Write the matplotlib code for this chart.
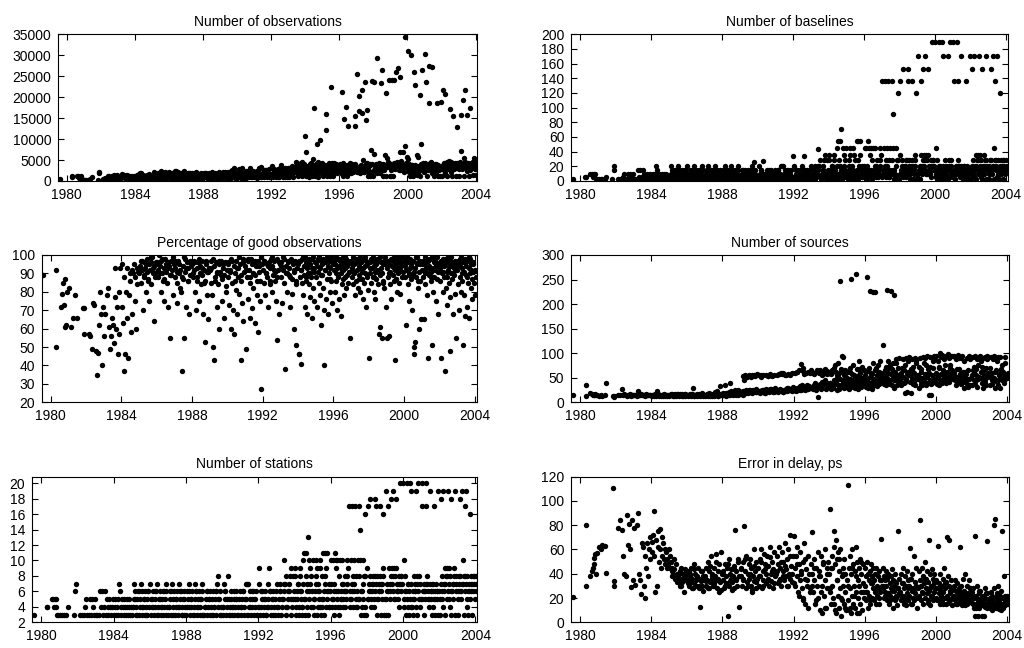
"""Six-panel scatter summary of VLBI sessions, 1980-2004."""

import matplotlib.pyplot as plt

plt.rcParams["font.family"] = ["Liberation Sans", "DejaVu Sans"]

# session epochs (decimal years), one entry per session
session_year = [
    1979.58, 1980.30, 1980.32, 1980.58, 1980.65, 1980.72, 1980.76, 1980.80, 1980.84, 1980.88,
    1980.95, 1981.05, 1981.15, 1981.25, 1981.38, 1981.48, 1981.82, 1981.88, 1981.90, 1982.15,
    1982.25, 1982.35, 1982.42, 1982.45, 1982.55, 1982.62, 1982.68, 1982.75, 1982.80, 1982.85,
    1982.90, 1982.97, 1983.02, 1983.10, 1983.18, 1983.25, 1983.30, 1983.36, 1983.42, 1983.47,
    1983.52, 1983.57, 1983.62, 1983.66, 1983.70, 1983.75, 1983.80, 1983.85, 1983.90, 1983.95,
    1984.02, 1984.06, 1984.10, 1984.14, 1984.18, 1984.22, 1984.26, 1984.30, 1984.35, 1984.39, 1984.43, 1984.47,
    1984.51, 1984.55, 1984.59, 1984.63, 1984.67, 1984.71, 1984.75, 1984.79, 1984.83, 1984.87, 1984.91, 1984.96,
    1985.02, 1985.06, 1985.10, 1985.14, 1985.18, 1985.22, 1985.26, 1985.30, 1985.35, 1985.39, 1985.43, 1985.47,
    1985.51, 1985.55, 1985.59, 1985.63, 1985.67, 1985.71, 1985.75, 1985.79, 1985.83, 1985.87, 1985.91, 1985.96,
    1986.02, 1986.06, 1986.10, 1986.14, 1986.18, 1986.22, 1986.26, 1986.30, 1986.35, 1986.39, 1986.43, 1986.47,
    1986.51, 1986.55, 1986.59, 1986.63, 1986.67, 1986.71, 1986.75, 1986.79, 1986.83, 1986.87, 1986.91, 1986.96,
    1987.02, 1987.06, 1987.10, 1987.14, 1987.18, 1987.22, 1987.26, 1987.30, 1987.35, 1987.39, 1987.43, 1987.47,
    1987.51, 1987.55, 1987.59, 1987.63, 1987.67, 1987.71, 1987.75, 1987.79, 1987.83, 1987.87, 1987.91, 1987.96,
    1988.02, 1988.06, 1988.10, 1988.14, 1988.18, 1988.22, 1988.26, 1988.30, 1988.35, 1988.39, 1988.43, 1988.47,
    1988.51, 1988.55, 1988.59, 1988.63, 1988.67, 1988.71, 1988.75, 1988.79, 1988.83, 1988.87, 1988.91, 1988.96,
    1989.02, 1989.06, 1989.10, 1989.14, 1989.18, 1989.22, 1989.26, 1989.30, 1989.35, 1989.39, 1989.43, 1989.47,
    1989.51, 1989.55, 1989.59, 1989.63, 1989.67, 1989.71, 1989.75, 1989.79, 1989.83, 1989.87, 1989.91, 1989.96,
    1990.02, 1990.06, 1990.10, 1990.14, 1990.18, 1990.22, 1990.26, 1990.30, 1990.35, 1990.39, 1990.43, 1990.47,
    1990.51, 1990.55, 1990.59, 1990.63, 1990.67, 1990.71, 1990.75, 1990.79, 1990.83, 1990.87, 1990.91, 1990.96,
    1991.02, 1991.06, 1991.10, 1991.14, 1991.18, 1991.22, 1991.26, 1991.30, 1991.35, 1991.39, 1991.43, 1991.47,
    1991.51, 1991.55, 1991.59, 1991.63, 1991.67, 1991.71, 1991.75, 1991.79, 1991.83, 1991.87, 1991.91, 1991.96,
    1992.02, 1992.06, 1992.10, 1992.14, 1992.18, 1992.22, 1992.26, 1992.30, 1992.35, 1992.39, 1992.43, 1992.47,
    1992.51, 1992.55, 1992.59, 1992.63, 1992.67, 1992.71, 1992.75, 1992.79, 1992.83, 1992.87, 1992.91, 1992.96,
    1993.02, 1993.06, 1993.10, 1993.14, 1993.18, 1993.22, 1993.26, 1993.30, 1993.35, 1993.39, 1993.43, 1993.47,
    1993.51, 1993.55, 1993.59, 1993.63, 1993.67, 1993.71, 1993.75, 1993.79, 1993.83, 1993.87, 1993.91, 1993.96,
    1994.01, 1994.04, 1994.07, 1994.10, 1994.13, 1994.16, 1994.19, 1994.22,
    1994.25, 1994.28, 1994.31, 1994.34, 1994.37, 1994.40, 1994.43, 1994.46,
    1994.49, 1994.52, 1994.55, 1994.58, 1994.61, 1994.64, 1994.67, 1994.70,
    1994.73, 1994.76, 1994.79, 1994.82, 1994.85, 1994.88, 1994.91, 1994.95,
    1995.01, 1995.04, 1995.07, 1995.10, 1995.13, 1995.16, 1995.19, 1995.22,
    1995.25, 1995.28, 1995.31, 1995.34, 1995.37, 1995.40, 1995.43, 1995.46,
    1995.49, 1995.52, 1995.55, 1995.58, 1995.61, 1995.64, 1995.67, 1995.70,
    1995.73, 1995.76, 1995.79, 1995.82, 1995.85, 1995.88, 1995.91, 1995.95,
    1996.01, 1996.04, 1996.07, 1996.10, 1996.13, 1996.16, 1996.19, 1996.22,
    1996.25, 1996.28, 1996.31, 1996.34, 1996.37, 1996.40, 1996.43, 1996.46,
    1996.49, 1996.52, 1996.55, 1996.58, 1996.61, 1996.64, 1996.67, 1996.70,
    1996.73, 1996.76, 1996.79, 1996.82, 1996.85, 1996.88, 1996.91, 1996.95,
    1997.01, 1997.04, 1997.07, 1997.10, 1997.13, 1997.16, 1997.19, 1997.22,
    1997.25, 1997.28, 1997.31, 1997.34, 1997.37, 1997.40, 1997.43, 1997.46,
    1997.49, 1997.52, 1997.55, 1997.58, 1997.61, 1997.64, 1997.67, 1997.70,
    1997.73, 1997.76, 1997.79, 1997.82, 1997.85, 1997.88, 1997.91, 1997.95,
    1998.01, 1998.04, 1998.07, 1998.10, 1998.13, 1998.16, 1998.19, 1998.22,
    1998.25, 1998.28, 1998.31, 1998.34, 1998.37, 1998.40, 1998.43, 1998.46,
    1998.49, 1998.52, 1998.55, 1998.58, 1998.61, 1998.64, 1998.67, 1998.70,
    1998.73, 1998.76, 1998.79, 1998.82, 1998.85, 1998.88, 1998.91, 1998.95,
    1999.01, 1999.04, 1999.07, 1999.10, 1999.13, 1999.16, 1999.19, 1999.22,
    1999.25, 1999.28, 1999.31, 1999.34, 1999.37, 1999.40, 1999.43, 1999.46,
    1999.49, 1999.52, 1999.55, 1999.58, 1999.61, 1999.64, 1999.67, 1999.70,
    1999.73, 1999.76, 1999.79, 1999.82, 1999.85, 1999.88, 1999.91, 1999.95,
    2000.01, 2000.04, 2000.07, 2000.10, 2000.13, 2000.16, 2000.19, 2000.22,
    2000.25, 2000.28, 2000.31, 2000.34, 2000.37, 2000.40, 2000.43, 2000.46,
    2000.49, 2000.52, 2000.55, 2000.58, 2000.61, 2000.64, 2000.67, 2000.70,
    2000.73, 2000.76, 2000.79, 2000.82, 2000.85, 2000.88, 2000.91, 2000.95,
    2001.01, 2001.04, 2001.07, 2001.10, 2001.13, 2001.16, 2001.19, 2001.22,
    2001.25, 2001.28, 2001.31, 2001.34, 2001.37, 2001.40, 2001.43, 2001.46,
    2001.49, 2001.52, 2001.55, 2001.58, 2001.61, 2001.64, 2001.67, 2001.70,
    2001.73, 2001.76, 2001.79, 2001.82, 2001.85, 2001.88, 2001.91, 2001.95,
    2002.01, 2002.04, 2002.07, 2002.10, 2002.13, 2002.16, 2002.19, 2002.22,
    2002.25, 2002.28, 2002.31, 2002.34, 2002.37, 2002.40, 2002.43, 2002.46,
    2002.49, 2002.52, 2002.55, 2002.58, 2002.61, 2002.64, 2002.67, 2002.70,
    2002.73, 2002.76, 2002.79, 2002.82, 2002.85, 2002.88, 2002.91, 2002.95,
    2003.01, 2003.04, 2003.07, 2003.10, 2003.13, 2003.16, 2003.19, 2003.22,
    2003.25, 2003.28, 2003.31, 2003.34, 2003.37, 2003.40, 2003.43, 2003.46,
    2003.49, 2003.52, 2003.55, 2003.58, 2003.61, 2003.64, 2003.67, 2003.70,
    2003.73, 2003.76, 2003.79, 2003.82, 2003.85, 2003.88, 2003.91, 2003.95,
    2004.01, 2004.03, 2004.05,
    # additional sessions, 1985-2003
    1985.05, 1985.17, 1985.29, 1985.42, 1985.54, 1985.66, 1985.78, 1985.90,
    1986.05, 1986.17, 1986.29, 1986.42, 1986.54, 1986.66, 1986.78, 1986.90,
    1987.05, 1987.17, 1987.29, 1987.42, 1987.54, 1987.66, 1987.78, 1987.90,
    1988.05, 1988.17, 1988.29, 1988.42, 1988.54, 1988.66, 1988.78, 1988.90,
    1989.05, 1989.17, 1989.29, 1989.42, 1989.54, 1989.66, 1989.78, 1989.90,
    1990.05, 1990.17, 1990.29, 1990.42, 1990.54, 1990.66, 1990.78, 1990.90,
    1991.05, 1991.17, 1991.29, 1991.42, 1991.54, 1991.66, 1991.78, 1991.90,
    1992.05, 1992.17, 1992.29, 1992.42, 1992.54, 1992.66, 1992.78, 1992.90,
    1993.05, 1993.17, 1993.29, 1993.42, 1993.54, 1993.66, 1993.78, 1993.90,
    1994.05, 1994.17, 1994.29, 1994.42, 1994.54, 1994.66, 1994.78, 1994.90,
    1995.05, 1995.17, 1995.29, 1995.42, 1995.54, 1995.66, 1995.78, 1995.90,
    1996.05, 1996.17, 1996.29, 1996.42, 1996.54, 1996.66, 1996.78, 1996.90,
    1997.05, 1997.17, 1997.29, 1997.42, 1997.54, 1997.66, 1997.78, 1997.90,
    1998.05, 1998.17, 1998.29, 1998.42, 1998.54, 1998.66, 1998.78, 1998.90,
    1999.05, 1999.17, 1999.29, 1999.42, 1999.54, 1999.66, 1999.78, 1999.90,
    2000.05, 2000.17, 2000.29, 2000.42, 2000.54, 2000.66, 2000.78, 2000.90,
    2001.05, 2001.17, 2001.29, 2001.42, 2001.54, 2001.66, 2001.78, 2001.90,
    2002.05, 2002.17, 2002.29, 2002.42, 2002.54, 2002.66, 2002.78, 2002.90,
    2003.05, 2003.17, 2003.29, 2003.42, 2003.54, 2003.66, 2003.78, 2003.90,
]

n_stations = [
    3, 4, 4, 5, 5, 4, 5, 4, 5, 3,
    3, 3, 3, 3, 3, 4, 3, 6, 7, 3,
    3, 3, 4, 5, 3, 3, 5, 3, 5, 4,
    3, 5, 3, 3, 3, 6, 4, 6, 3, 4,
    6, 3, 5, 4, 3, 5, 4, 3, 4, 5,
    3, 4, 5, 3, 4, 5, 3, 7, 6, 4, 3, 5, 4, 3, 5, 4, 3, 5, 4, 3, 5, 4, 3, 4,  # 1984
    3, 4, 7, 5, 6, 3, 4, 5, 6, 3, 4, 5, 7, 3, 6, 4, 5, 3, 6, 4, 5, 3, 6, 4,  # 1985
    7, 3, 4, 5, 6, 3, 4, 5, 6, 7, 3, 4, 5, 6, 3, 4, 5, 6, 3, 4, 5, 7, 6, 4,  # 1986
    3, 4, 5, 6, 3, 7, 4, 5, 6, 3, 4, 5, 6, 3, 7, 4, 5, 6, 3, 4, 5, 6, 3, 4,  # 1987
    3, 4, 5, 7, 6, 3, 4, 5, 6, 3, 4, 5, 7, 6, 3, 4, 5, 6, 3, 4, 5, 6, 7, 3,  # 1988
    3, 4, 5, 6, 3, 4, 5, 6, 3, 4, 5, 6, 3, 4, 5, 6, 3, 7, 4, 8, 5, 6, 3, 4,  # 1989
    3, 4, 7, 5, 6, 3, 4, 8, 5, 3, 4, 5, 6, 3, 4, 5, 3, 4, 6, 5, 3, 4, 5, 6,  # 1990
    3, 4, 5, 6, 3, 4, 5, 7, 7, 3, 7, 4, 5, 6, 3, 4, 5, 6, 3, 4, 5, 6, 3, 4,  # 1991
    9, 7, 3, 4, 5, 6, 3, 4, 5, 6, 3, 4, 7, 5, 9, 6, 3, 4, 5, 6, 3, 4, 5, 6,  # 1992
    7, 3, 4, 5, 6, 7, 3, 4, 5, 6, 10, 7, 8, 3, 4, 5, 6, 7, 8, 9, 3, 4, 5, 6,  # 1993
    9, 8, 3, 4, 5, 6, 7, 3, 4, 8, 9, 5, 6, 3, 4, 10,  # 1994
    7, 11, 5, 3, 8, 11, 4, 6, 13, 3, 10, 5, 7, 9, 4, 6,
    10, 4, 3, 5, 6, 8, 10, 9, 3, 4, 7, 5, 6, 10, 9, 3,  # 1995
    8, 4, 5, 11, 6, 3, 11, 7, 4, 9, 11, 5, 6, 4, 7, 6,
    7, 10, 4, 5, 10, 6, 3, 11, 4, 10, 9, 5, 10, 6, 3, 8,  # 1996
    4, 10, 5, 6, 10, 7, 4, 5, 6, 8, 4, 5, 6, 7, 10, 9,
    17, 4, 6, 5, 10, 17, 7, 4, 8, 6, 10, 17, 5, 8, 4, 6,  # 1997
    10, 5, 17, 8, 10, 14, 3, 6, 4, 5, 10, 3, 8, 4, 16, 3,
    9, 17, 5, 6, 7, 8, 18, 4, 5, 6, 7, 8, 4, 5, 6, 18,  # 1998
    17, 7, 8, 3, 5, 6, 7, 8, 17, 3, 6, 5, 7, 9, 16, 3,
    5, 3, 19, 6, 7, 3, 17, 9, 5, 6, 8, 18, 9, 7, 19, 6,  # 1999
    5, 9, 8, 18, 9, 6, 7, 5, 6, 8, 4, 7, 20, 8, 6, 7,
    20, 10, 4, 8, 6, 3, 5, 20, 7, 4, 6, 3, 20, 5, 7, 19,  # 2000
    4, 6, 3, 8, 5, 7, 6, 4, 19, 3, 8, 6, 20, 5, 7, 4,
    5, 20, 17, 6, 3, 7, 5, 6, 20, 17, 8, 7, 5, 6, 4, 19,  # 2001
    7, 6, 5, 3, 7, 6, 4, 5, 17, 6, 3, 7, 5, 6, 3, 19,
    6, 3, 7, 18, 5, 8, 4, 19, 6, 7, 9, 3, 8, 5, 9, 6,  # 2002
    19, 7, 9, 4, 8, 3, 18, 6, 7, 5, 9, 8, 3, 19, 6, 7,
    6, 3, 7, 8, 18, 8, 5, 6, 19, 7, 10, 3, 8, 17, 6, 7,  # 2003
    19, 4, 8, 6, 3, 7, 16, 5, 8, 6, 7, 3, 8, 6, 7, 5,
    6, 8, 7,
    # additional sessions
    4, 5, 3, 6, 4, 5, 3, 6,
    5, 4, 6, 3, 5, 4, 6, 3,
    4, 6, 3, 5, 4, 6, 3, 5,
    6, 4, 5, 3, 6, 4, 5, 3,
    4, 6, 5, 3, 4, 6, 5, 3,
    4, 6, 5, 3, 4, 6, 5, 3,
    4, 6, 5, 3, 4, 6, 5, 3,
    4, 6, 5, 3, 4, 6, 5, 3,
    4, 6, 5, 7, 4, 6, 5, 8,
    5, 7, 6, 4, 5, 7, 6, 8,
    5, 7, 6, 4, 5, 8, 6, 4,
    5, 7, 6, 4, 5, 7, 6, 8,
    5, 6, 7, 4, 5, 6, 7, 8,
    5, 6, 7, 8, 5, 6, 7, 8,
    5, 6, 7, 8, 5, 6, 7, 8,
    5, 6, 7, 4, 5, 6, 7, 8,
    5, 6, 7, 5, 6, 7, 5, 6,
    5, 6, 7, 8, 5, 6, 7, 8,
    5, 6, 7, 8, 5, 6, 7, 8,
]

n_baselines = [
    3, 6, 6, 10, 10, 6, 10, 6, 10, 3,
    3, 3, 3, 3, 3, 6, 3, 15, 21, 3,
    3, 3, 6, 10, 3, 3, 10, 3, 10, 6,
    3, 10, 3, 3, 3, 15, 6, 15, 3, 6,
    15, 3, 10, 6, 3, 10, 6, 3, 6, 10,
    3, 6, 10, 3, 6, 10, 3, 21, 15, 6, 3, 10, 6, 3, 10, 6, 3, 10, 6, 3, 10, 6, 3, 6,
    3, 6, 21, 10, 15, 3, 6, 10, 15, 3, 6, 10, 21, 3, 15, 6, 10, 3, 15, 6, 10, 3, 15, 6,
    21, 3, 6, 10, 15, 3, 6, 10, 15, 21, 3, 6, 10, 15, 3, 6, 10, 15, 3, 6, 10, 21, 15, 6,
    3, 6, 10, 15, 3, 21, 6, 10, 15, 3, 6, 10, 15, 3, 21, 6, 10, 15, 3, 6, 10, 15, 3, 6,
    3, 6, 10, 21, 15, 3, 6, 10, 15, 3, 6, 10, 21, 15, 3, 6, 10, 15, 3, 6, 10, 15, 21, 3,
    3, 6, 10, 15, 3, 6, 10, 15, 3, 6, 10, 15, 3, 6, 10, 15, 3, 21, 6, 26, 10, 15, 3, 6,
    3, 6, 21, 10, 15, 3, 6, 27, 10, 3, 6, 10, 15, 3, 6, 10, 3, 6, 15, 10, 3, 6, 10, 15,
    3, 6, 10, 15, 3, 6, 10, 21, 21, 3, 21, 6, 10, 15, 3, 6, 10, 15, 3, 6, 10, 15, 3, 6,
    34, 21, 3, 6, 10, 15, 3, 6, 10, 15, 3, 6, 21, 10, 34, 15, 3, 6, 10, 15, 3, 6, 10, 15,
    21, 3, 6, 10, 15, 21, 3, 6, 10, 15, 43, 21, 28, 3, 6, 10, 15, 21, 28, 36, 3, 6, 10, 15,
    36, 28, 3, 6, 10, 15, 21, 3, 6, 28, 36, 10, 15, 3, 6, 45,
    21, 55, 10, 3, 28, 55, 6, 15, 71, 3, 45, 10, 21, 36, 6, 15,
    45, 6, 3, 10, 15, 28, 45, 36, 3, 6, 21, 10, 15, 45, 36, 3,
    28, 6, 10, 55, 15, 3, 55, 21, 6, 36, 55, 10, 15, 6, 21, 15,
    21, 45, 6, 10, 45, 15, 3, 55, 6, 45, 36, 10, 45, 15, 3, 28,
    6, 45, 10, 15, 45, 21, 6, 10, 15, 28, 6, 10, 15, 21, 45, 36,
    136, 6, 15, 10, 45, 136, 21, 6, 28, 15, 45, 136, 10, 28, 6, 15,
    45, 10, 136, 28, 45, 91, 3, 15, 6, 10, 45, 3, 28, 6, 120, 3,
    36, 136, 10, 15, 21, 28, 153, 6, 10, 15, 21, 28, 6, 10, 15, 153,
    136, 21, 28, 3, 10, 15, 21, 28, 136, 3, 15, 10, 21, 36, 120, 3,
    10, 3, 171, 15, 21, 3, 136, 36, 10, 15, 28, 153, 36, 21, 171, 15,
    10, 36, 28, 153, 36, 15, 21, 10, 15, 28, 6, 21, 190, 28, 15, 21,
    190, 45, 6, 28, 15, 3, 10, 190, 21, 6, 15, 3, 190, 10, 21, 171,
    6, 15, 3, 28, 10, 21, 15, 6, 171, 3, 28, 15, 190, 10, 21, 6,
    10, 190, 136, 15, 3, 21, 10, 15, 190, 136, 28, 21, 10, 15, 6, 171,
    21, 15, 10, 3, 21, 15, 6, 10, 136, 15, 3, 21, 10, 15, 3, 171,
    15, 3, 21, 153, 10, 28, 6, 171, 15, 21, 36, 3, 28, 10, 36, 15,
    171, 21, 36, 6, 28, 3, 153, 15, 21, 10, 36, 28, 3, 171, 15, 21,
    15, 3, 21, 28, 153, 28, 10, 15, 171, 21, 45, 3, 28, 136, 15, 21,
    171, 6, 28, 15, 3, 21, 120, 10, 28, 15, 21, 3, 28, 15, 21, 10,
    15, 28, 21,
    # additional sessions
    6, 10, 3, 15, 6, 10, 3, 15,
    10, 6, 15, 3, 10, 6, 15, 3,
    6, 15, 3, 10, 6, 15, 3, 10,
    15, 6, 10, 3, 15, 6, 10, 3,
    6, 15, 10, 3, 6, 15, 10, 3,
    6, 15, 10, 3, 6, 15, 10, 3,
    6, 15, 10, 3, 6, 15, 10, 3,
    6, 15, 10, 3, 6, 15, 10, 3,
    6, 15, 10, 21, 6, 15, 10, 28,
    10, 21, 15, 6, 10, 21, 15, 28,
    10, 21, 15, 6, 10, 28, 15, 6,
    10, 21, 15, 6, 10, 21, 15, 28,
    10, 15, 21, 6, 10, 15, 21, 28,
    10, 15, 21, 28, 10, 15, 21, 28,
    10, 15, 21, 28, 10, 15, 21, 28,
    10, 15, 21, 6, 10, 15, 21, 28,
    10, 15, 21, 10, 15, 21, 10, 15,
    10, 15, 21, 28, 10, 15, 21, 28,
    10, 15, 21, 28, 10, 15, 21, 28,
]

n_observations = [
    500, 1300, 900, 1200, 1100, 800, 1000, 700, 1300, 400,
    300, 200, 250, 300, 500, 1000, 300, 2000, 2200, 500,
    700, 400, 1100, 1200, 600, 500, 1300, 700, 1500, 900,
    400, 1400, 600, 700, 800, 1600, 1000, 1500, 700, 1200,
    1400, 600, 1300, 1100, 800, 1300, 1000, 700, 900, 1200,
    400, 900, 1500, 500, 1000, 1600, 600, 2000, 1800, 1100, 500, 1400,  # 1984
    900, 450, 1300, 1000, 600, 1500, 1200, 550, 1700, 1000, 400, 800,
    600, 1000, 2100, 1400, 1800, 500, 1100, 1500, 2000, 650, 1200, 1600,  # 1985
    2300, 700, 1900, 1000, 1500, 550, 2100, 1100, 1400, 600, 1800, 1000,
    2200, 600, 1100, 1500, 2000, 500, 1000, 1600, 2400, 2500, 700, 1200,  # 1986
    1700, 2100, 600, 1000, 1400, 1900, 550, 1100, 1500, 2300, 2000, 900,
    600, 1000, 1400, 1900, 500, 2000, 1100, 1500, 1800, 600, 1000, 1300,  # 1987
    1800, 550, 2100, 1000, 1400, 1700, 600, 1100, 1500, 2000, 700, 1000,
    650, 1100, 1500, 2000, 1800, 600, 1000, 1400, 1900, 700, 1100, 1500,  # 1988
    2100, 1800, 650, 1200, 1500, 1900, 600, 1000, 1400, 2000, 2200, 700,
    700, 1200, 1600, 2000, 650, 1100, 1500, 2100, 600, 1200, 1700, 2200,  # 1989
    700, 1300, 1800, 2300, 800, 2600, 1200, 3000, 1700, 2100, 750, 1300,
    800, 1300, 2800, 1800, 2300, 700, 1200, 3200, 1700, 800, 1400, 1900,  # 1990
    2400, 750, 1300, 1800, 900, 1500, 3100, 2000, 850, 1400, 1900, 2500,
    850, 1400, 1900, 2400, 800, 1300, 2000, 3200, 3000, 900, 3300, 1500,  # 1991
    2000, 2600, 850, 1400, 2100, 2700, 900, 1500, 2000, 2800, 950, 1600,
    3500, 3000, 900, 1500, 2100, 2700, 1000, 1600, 2200, 2800, 950, 1500,  # 1992
    3100, 2200, 3800, 2900, 1000, 1600, 2300, 3000, 1000, 1700, 2400, 3100,
    3200, 1000, 1600, 2300, 2900, 3500, 1000, 1800, 2500, 3100, 4500, 3600,  # 1993
    4200, 1100, 1800, 2500, 3200, 3800, 4300, 4600, 1100, 1900, 2600, 3300,
    10700, 7000, 1100, 1800, 2500, 3000, 3500, 1000,  # 1994
    1700, 4000, 4200, 2400, 3100, 1100, 1900, 5200,
    3600, 17300, 2600, 1200, 3900, 4100, 1800, 8800,
    4500, 1000, 3800, 2500, 3300, 9800, 1900, 3000,
    4200, 1900, 1200, 2500, 3100, 3800, 12200, 16000,  # 1995
    1100, 2000, 3400, 2600, 3200, 4300, 4000, 1200,
    22500, 2000, 2700, 4400, 3300, 1100, 4200, 3600,
    2100, 3900, 4100, 2800, 3400, 2000, 3700, 3300,
    3400, 4100, 2000, 2600, 21300, 3100, 1200, 4400,  # 1996
    2100, 14700, 3900, 2700, 17700, 3200, 1100, 3800,
    2000, 13000, 2600, 3300, 4200, 3600, 1900, 2500,
    3000, 4000, 2100, 2700, 3200, 3500, 13100, 15400,
    25500, 2100, 3200, 2700, 20300, 16700, 3600, 2000,  # 1997
    3800, 3100, 21700, 16200, 2600, 4900, 2200, 3300,
    23700, 2700, 14600, 4000, 17000, 4300, 1200, 3000,
    2000, 2500, 4100, 1100, 7400, 2100, 23900, 1300,
    6400, 23600, 2500, 3100, 3600, 4100, 29400, 1900,  # 1998
    2600, 3200, 3700, 4200, 2000, 2700, 3300, 23300,
    26500, 3500, 4000, 1200, 2600, 3100, 3800, 6200,
    20900, 1300, 3400, 5600, 3700, 4500, 24100, 1200,
    2700, 1200, 24100, 3300, 3800, 1300, 24000, 4300,  # 1999
    2800, 3400, 4000, 26100, 4500, 3900, 26900, 3200,
    2600, 4400, 7000, 24900, 4800, 3300, 3900, 2700,
    3100, 6800, 2100, 3800, 34300, 8400, 3300, 5800,
    31100, 5200, 2100, 4000, 3300, 1200, 2800, 30100,  # 2000
    3800, 2200, 3400, 1300, 25900, 2900, 3900, 22800,
    2300, 3500, 1400, 6100, 3000, 5800, 3600, 2400,
    20500, 1300, 8800, 3400, 26500, 2900, 4100, 2200,
    4200, 30200, 23700, 3300, 1100, 3900, 2700, 3400,  # 2001
    27400, 18700, 4300, 3700, 4500, 3100, 2000, 27100,
    3800, 3200, 2600, 1200, 4000, 3300, 2100, 2800,
    18700, 3500, 1300, 3900, 2700, 3200, 1200, 18800,
    3300, 1200, 3900, 21700, 2700, 4400, 2000, 20700,  # 2002
    3400, 3800, 4600, 1300, 4300, 2800, 4700, 3200,
    17100, 3700, 4500, 2200, 4200, 1200, 15600, 3300,
    3900, 2800, 4400, 4100, 1300, 12800, 3100, 3600,
    3400, 1300, 3900, 4500, 15800, 7200, 2800, 3300,  # 2003
    19300, 4000, 5600, 1200, 4600, 21600, 3400, 3800,
    15800, 2300, 4400, 3200, 1300, 3700, 17300, 2700,
    4300, 3100, 3900, 1400, 4500, 5600, 3600, 2800,
    2800, 3500, 1500,
    # additional sessions
    1000, 1400, 600, 1900, 1100, 1500, 650, 2000,
    1500, 1100, 2000, 600, 1400, 1000, 1900, 700,
    1100, 1800, 600, 1400, 1000, 1900, 650, 1500,
    1900, 1100, 1500, 650, 1800, 1000, 1400, 700,
    1200, 2100, 1600, 700, 1300, 2200, 1700, 750,
    1400, 2300, 1900, 800, 1300, 2400, 1800, 850,
    1500, 2500, 2000, 900, 1400, 2600, 2100, 900,
    1600, 2800, 2200, 1000, 1500, 2900, 2300, 950,
    1700, 3000, 2400, 3400, 1800, 3100, 2500, 4000,
    2500, 3400, 3000, 1800, 2600, 3500, 3100, 3900,
    2600, 3500, 3200, 2000, 2700, 3800, 3300, 2100,
    2700, 3600, 3200, 2100, 2800, 3500, 3300, 4000,
    2700, 3200, 3600, 2100, 2600, 3300, 3700, 4000,
    2700, 3200, 3700, 4100, 2600, 3300, 3800, 4200,
    2800, 3300, 3800, 4300, 2700, 3400, 3900, 4400,
    2900, 3400, 3900, 2200, 2800, 3500, 4000, 4300,
    2800, 3300, 3900, 2700, 3400, 4000, 2900, 3200,
    2900, 3500, 4000, 4500, 2800, 3400, 4100, 4400,
    2800, 3500, 4000, 4400, 2900, 3400, 3900, 4500,
]

pct_good = [
    89, 92, 50, 72, 79, 85, 73, 61, 87, 62,
    80, 82, 61, 66, 78, 66, 71, 57, 71, 57,
    56, 49, 74, 73, 48, 35, 47, 62, 80, 68,
    40, 72, 56, 68, 78, 82, 61, 49, 56, 66,
    62, 52, 93, 77, 60, 72, 46, 57, 80, 93,
    72, 95, 63, 37, 88, 46, 80, 93, 66, 44, 78, 90, 86, 58, 92, 68, 90, 95, 75, 88, 60, 93, 84, 91,
    90, 94, 85, 97, 92, 70, 96, 88, 93, 80, 98, 91, 87, 95, 75, 92, 96, 84, 99, 90, 64, 94, 88, 96,
    96, 92, 88, 100, 94, 80, 97, 90, 86, 93, 75, 98, 91, 95, 85, 93, 72, 94, 55, 89, 97, 92, 78, 95,
    93, 88, 96, 85, 74, 97, 90, 82, 92, 80, 37, 87, 94, 55, 98, 91, 72, 96, 86, 93, 68, 97, 89, 94,
    95, 88, 92, 97, 80, 70, 93, 86, 96, 75, 90, 94, 84, 97, 89, 68, 92, 53, 86, 95, 78, 91, 65, 93,
    92, 85, 97, 78, 50, 43, 94, 88, 96, 72, 90, 84, 95, 60, 91, 97, 87, 75, 93, 66, 89, 96, 80, 92,
    88, 96, 73, 92, 60, 98, 85, 70, 94, 57, 90, 81, 97, 68, 88, 93, 79, 95, 86, 43, 74, 98, 64, 91,
    94, 49, 88, 97, 76, 92, 66, 85, 98, 71, 90, 82, 96, 63, 89, 94, 78, 97, 58, 91, 86, 75, 27, 95,
    92, 85, 97, 78, 90, 95, 88, 72, 96, 84, 93, 98, 80, 94, 89, 97, 91, 86, 75, 98, 54, 92, 68, 95,
    96, 88, 74, 92, 98, 85, 38, 94, 90, 80, 97, 89, 93, 72, 98, 87, 79, 95, 60, 91, 97, 84, 51, 93,
    95, 46, 46, 88, 97, 41, 92, 85, 98, 78, 94, 89, 99, 72, 96, 86,
    93, 68, 97, 90, 84, 98, 77, 95, 88, 66, 93, 99, 82, 91, 75, 96,
    96, 88, 72, 98, 91, 85, 99, 78, 93, 97, 62, 89, 95, 82, 98, 70,
    40, 92, 96, 76, 99, 87, 68, 94, 90, 97, 80, 93, 86, 99, 74, 95,
    92, 97, 80, 95, 99, 86, 70, 93, 98, 88, 94, 76, 97, 90, 67, 95,
    84, 99, 92, 78, 96, 88, 93, 98, 82, 95, 89, 97, 85, 91, 55, 96,
    97, 88, 93, 99, 84, 95, 90, 78, 96, 86, 98, 92, 82, 97, 89, 94,
    99, 80, 93, 96, 87, 91, 76, 98, 85, 94, 90, 72, 97, 88, 95, 81,
    44, 96, 90, 98, 85, 93, 97, 88, 99, 80, 94, 91, 76, 95, 87, 98,
    92, 84, 97, 57, 89, 61, 93, 96, 90, 55, 86, 95, 82, 97, 99, 72,
    93, 55, 97, 88, 95, 56, 91, 84, 98, 76, 94, 89, 97, 86, 99, 92,
    43, 95, 87, 98, 80, 93, 90, 96, 85, 97, 79, 94, 99, 88, 96, 91,
    95, 88, 97, 62, 92, 99, 84, 96, 90, 75, 98, 93, 94, 87, 70, 96,
    89, 97, 50, 46, 93, 53, 88, 99, 95, 82, 96, 60, 91, 86, 97, 65,
    92, 97, 88, 95, 65, 99, 84, 93, 96, 90, 78, 97, 44, 89, 94, 98,
    91, 86, 99, 51, 93, 80, 96, 88, 97, 92, 75, 95, 87, 99, 68, 94,
    93, 86, 44, 97, 90, 95, 80, 98, 88, 94, 37, 82, 96, 91, 73, 99,
    92, 85, 97, 77, 48, 94, 90, 87, 96, 68, 93, 89, 79, 97, 55, 92,
    92, 84, 97, 70, 95, 88, 99, 80, 93, 86, 51, 96, 78, 91, 98, 67,
    94, 89, 72, 97, 85, 93, 66, 90, 98, 82, 95, 87, 76, 96, 91, 85,
    78, 92, 88,
    # additional sessions
    92, 97, 89, 95, 86, 99, 93, 90,
    95, 90, 98, 87, 93, 96, 89, 99,
    97, 91, 95, 88, 99, 93, 86, 96,
    90, 96, 88, 98, 93, 85, 97, 91,
    93, 98, 86, 91, 97, 89, 95, 83,
    95, 91, 97, 86, 93, 99, 89, 96,
    92, 98, 88, 95, 97, 86, 94, 99,
    97, 90, 94, 86, 99, 92, 88, 96,
    94, 99, 90, 96, 88, 97, 92, 86,
    97, 92, 99, 88, 95, 90, 98, 93,
    94, 99, 89, 97, 92, 98, 87, 96,
    96, 90, 98, 93, 87, 99, 94, 91,
    95, 91, 98, 87, 96, 93, 99, 89,
    93, 98, 88, 96, 91, 99, 85, 95,
    96, 90, 98, 93, 87, 99, 92, 95,
    94, 98, 89, 96, 91, 99, 86, 95,
    95, 90, 98, 93, 88, 99, 94, 91,
    96, 91, 98, 88, 94, 99, 90, 95,
    94, 98, 90, 96, 88, 99, 92, 95,
]

n_sources = [
    15, 36, 13, 18, 16, 15, 14, 15, 16, 14,
    14, 13, 14, 13, 14, 40, 12, 13, 11, 14,
    15, 28, 14, 16, 14, 13, 15, 14, 16, 13,
    14, 15, 15, 14, 13, 22, 15, 14, 16, 14,
    15, 14, 13, 15, 16, 14, 15, 14, 15, 14,
    14, 13, 15, 12, 14, 16, 13, 22, 17, 14, 12, 15, 14, 13, 15, 14, 12, 16, 14, 13, 15, 14, 12, 14,
    13, 14, 16, 15, 17, 12, 14, 15, 16, 13, 14, 15, 16, 13, 17, 14, 15, 12, 16, 14, 15, 13, 16, 14,
    14, 13, 14, 15, 17, 12, 14, 16, 30, 15, 13, 14, 15, 16, 12, 14, 15, 17, 13, 14, 16, 18, 15, 14,
    13, 14, 15, 16, 12, 18, 14, 15, 17, 13, 14, 16, 17, 13, 20, 14, 15, 22, 13, 15, 16, 34, 14, 15,
    15, 14, 16, 35, 18, 13, 15, 17, 20, 14, 40, 16, 22, 19, 14, 16, 18, 24, 15, 17, 20, 25, 22, 16,
    16, 18, 20, 22, 15, 45, 55, 24, 18, 52, 21, 25, 55, 20, 23, 52, 19, 26, 56, 22, 54, 28, 21, 57,
    20, 55, 23, 18, 52, 26, 21, 56, 24, 19, 55, 27, 22, 54, 25, 20, 57, 28, 23, 53, 26, 21, 55, 30,
    22, 56, 25, 20, 58, 28, 24, 60, 57, 21, 59, 26, 23, 55, 27, 22, 58, 30, 25, 56, 28, 24, 60, 32,
    25, 60, 28, 22, 62, 30, 26, 65, 33, 24, 78, 35, 28, 70, 58, 32, 25, 60, 36, 27, 62, 34, 30, 65,
    30, 62, 28, 35, 58, 40, 25, 65, 32, 10, 60, 38, 66, 30, 42, 55, 35, 62, 45, 68, 28, 40, 58, 36,
    60, 32, 40, 28, 58, 35, 65, 30, 45, 70, 38, 75, 42, 62, 25, 50,
    80, 55, 36, 28, 248, 48, 62, 33, 95, 40, 92, 55, 30, 65, 45, 38,
    50, 30, 62, 42, 28, 70, 48, 35, 252, 45, 58, 32, 75, 40, 52, 30,
    262, 48, 35, 68, 42, 28, 85, 55, 38, 60, 45, 32, 72, 50, 40, 65,
    55, 40, 32, 62, 256, 45, 30, 70, 38, 52, 227, 35, 60, 42, 28, 80,
    225, 48, 36, 65, 224, 40, 55, 33, 75, 45, 38, 62, 50, 85, 42, 58,
    116, 42, 55, 38, 65, 48, 72, 35, 228, 50, 85, 60, 40, 75, 45, 226,
    58, 36, 68, 80, 52, 219, 30, 62, 45, 55, 88, 35, 70, 48, 90, 40,
    45, 60, 35, 70, 88, 52, 65, 40, 18, 75, 90, 48, 20, 58, 85, 62,
    55, 92, 42, 68, 19, 50, 88, 38, 72, 45, 60, 90, 35, 55, 80, 48,
    55, 30, 72, 45, 90, 38, 62, 50, 35, 93, 48, 80, 58, 42, 75, 36,
    95, 52, 40, 68, 15, 60, 45, 92, 38, 15, 55, 85, 70, 48, 94, 42,
    95, 60, 38, 85, 50, 35, 72, 100, 45, 92, 58, 40, 96, 65, 48, 88,
    52, 75, 40, 95, 62, 45, 98, 55, 90, 42, 70, 58, 94, 50, 65, 48,
    60, 95, 92, 45, 35, 88, 52, 40, 97, 90, 68, 48, 58, 92, 38, 95,
    55, 42, 62, 30, 85, 50, 45, 58, 90, 38, 32, 65, 48, 94, 35, 88,
    50, 35, 65, 92, 45, 72, 38, 95, 55, 68, 88, 32, 75, 48, 90, 52,
    94, 62, 85, 40, 72, 30, 90, 55, 65, 45, 92, 70, 35, 95, 52, 60,
    55, 35, 70, 92, 60, 45, 38, 88, 94, 50, 62, 30, 90, 65, 42, 85,
    93, 35, 58, 48, 30, 92, 68, 45, 75, 50, 62, 40, 58, 80, 48, 55,
    55, 50, 60,
    # additional sessions
    14, 15, 13, 16, 14, 15, 13, 16,
    15, 14, 17, 13, 15, 14, 16, 13,
    14, 17, 13, 15, 14, 18, 13, 16,
    18, 15, 17, 14, 20, 16, 18, 15,
    20, 54, 22, 18, 24, 55, 23, 20,
    22, 56, 25, 19, 54, 28, 24, 21,
    24, 57, 26, 21, 56, 29, 25, 22,
    26, 62, 30, 24, 64, 32, 28, 60,
    30, 60, 35, 62, 28, 58, 40, 64,
    40, 62, 35, 55, 30, 68, 45, 58,
    45, 62, 38, 55, 32, 68, 50, 40,
    48, 65, 40, 58, 35, 70, 45, 60,
    50, 42, 70, 38, 60, 45, 80, 55,
    50, 70, 42, 88, 55, 65, 40, 85,
    52, 68, 45, 90, 58, 72, 40, 88,
    55, 70, 45, 92, 60, 48, 75, 95,
    52, 68, 45, 90, 55, 62, 48, 92,
    55, 62, 45, 92, 50, 70, 40, 88,
    52, 60, 45, 90, 55, 65, 48, 92,
]

delay_error_ps = [
    21, 80, 30, 38, 42, 45, 48, 53, 56, 40,
    57, 62, 60, 64, 63, 41, 111, 30, 34, 78,
    84, 76, 55, 40, 38, 88, 64, 81, 60, 29,
    84, 35, 78, 31, 80, 90, 40, 35, 23, 65,
    62, 30, 20, 55, 45, 65, 38, 60, 52, 70,
    58, 66, 72, 55, 92, 25, 68, 30, 75, 62, 50, 77, 60, 45, 70, 55, 65, 52, 48, 60, 58, 45, 52, 48,
    60, 55, 50, 45, 42, 40, 38, 44, 36, 48, 35, 40, 38, 34, 42, 30, 45, 36, 33, 40, 25, 38, 35, 42,
    40, 35, 42, 30, 38, 45, 33, 36, 28, 48, 32, 40, 35, 30, 38, 45, 28, 36, 13, 34, 42, 30, 38, 35,
    38, 45, 30, 35, 50, 28, 42, 33, 55, 36, 40, 30, 45, 32, 38, 56, 28, 35, 42, 25, 48, 33, 58, 40,
    35, 42, 28, 48, 32, 38, 45, 5, 30, 52, 40, 36, 44, 33, 38, 28, 46, 76, 35, 42, 30, 50, 13, 38,
    38, 45, 30, 50, 35, 79, 42, 28, 55, 33, 40, 48, 36, 52, 30, 45, 25, 38, 60, 34, 42, 28, 50, 36,
    45, 30, 52, 38, 60, 28, 42, 35, 56, 48, 32, 40, 55, 36, 46, 30, 62, 40, 34, 50, 28, 44, 58, 38,
    40, 55, 32, 48, 62, 36, 45, 30, 58, 42, 50, 35, 65, 38, 44, 52, 30, 60, 40, 36, 72, 46, 33, 55,
    71, 45, 30, 55, 38, 62, 25, 48, 35, 58, 42, 28, 50, 20, 65, 36, 15, 44, 30, 55, 12, 40, 25, 48,
    74, 40, 25, 52, 35, 15, 45, 30, 58, 20, 42, 10, 38, 55, 8, 30, 48, 22, 60, 35, 12, 45, 28, 50,
    40, 25, 93, 15, 45, 30, 55, 20, 62, 75, 10, 48, 68, 8, 35, 52,
    22, 58, 12, 42, 28, 60, 5, 38, 18, 45, 30, 52, 15, 40, 25, 10,
    35, 18, 113, 45, 10, 55, 28, 8, 40, 22, 60, 15, 48, 30, 12, 42,
    62, 25, 50, 8, 35, 20, 45, 30, 15, 52, 25, 40, 10, 48, 32, 20,
    30, 45, 18, 38, 25, 50, 12, 35, 22, 42, 15, 32, 48, 20, 38, 28,
    45, 18, 35, 25, 40, 15, 30, 22, 38, 28, 42, 20, 35, 25, 69, 30,
    45, 28, 38, 20, 35, 25, 42, 30, 18, 36, 24, 40, 15, 32, 22, 38,
    28, 44, 20, 35, 12, 30, 26, 18, 40, 22, 32, 14, 75, 28, 36, 24,
    25, 40, 18, 32, 22, 45, 28, 15, 38, 20, 30, 14, 42, 24, 35, 18,
    30, 22, 61, 15, 36, 26, 40, 20, 28, 55, 18, 33, 24, 45, 30, 12,
    28, 42, 22, 84, 35, 18, 30, 45, 25, 38, 15, 32, 50, 20, 36, 28,
    42, 24, 33, 18, 68, 26, 40, 14, 30, 22, 44, 18, 36, 25, 40, 28,
    20, 35, 28, 63, 18, 32, 24, 15, 40, 26, 22, 30, 18, 36, 25, 20,
    45, 28, 15, 33, 70, 22, 38, 16, 30, 68, 24, 18, 26, 35, 20, 28,
    22, 30, 18, 35, 15, 26, 20, 32, 24, 28, 16, 62, 22, 18, 30, 25,
    14, 36, 20, 26, 16, 40, 22, 18, 30, 15, 24, 20, 35, 17, 28, 22,
    18, 25, 15, 28, 12, 20, 5, 71, 22, 15, 30, 14, 5, 18, 24, 12,
    26, 16, 20, 5, 14, 22, 17, 5, 20, 13, 28, 15, 24, 67, 12, 18,
    15, 20, 12, 25, 18, 22, 10, 16, 28, 80, 14, 85, 20, 12, 24, 17,
    14, 30, 18, 11, 22, 15, 26, 13, 75, 20, 12, 38, 16, 22, 14, 18,
    18, 22, 15,
    # additional sessions
    45, 38, 52, 33, 40, 30, 36, 44,
    32, 40, 28, 44, 36, 30, 42, 26,
    34, 28, 46, 38, 30, 50, 36, 27,
    40, 30, 48, 34, 27, 44, 36, 52,
    44, 36, 52, 30, 40, 27, 46, 33,
    38, 50, 30, 44, 35, 54, 42, 32,
    42, 34, 50, 38, 46, 30, 55, 40,
    32, 48, 22, 40, 18, 52, 35, 28,
    30, 45, 18, 38, 25, 50, 12, 40,
    28, 45, 15, 35, 52, 20, 40, 12,
    30, 12, 45, 22, 38, 8, 50, 25,
    25, 40, 18, 32, 28, 45, 15, 35,
    30, 22, 38, 18, 26, 34, 20, 28,
    22, 32, 18, 28, 36, 15, 26, 20,
    20, 30, 24, 36, 16, 28, 22, 32,
    18, 28, 22, 15, 32, 20, 26, 14,
    20, 15, 26, 18, 24, 14, 22, 28,
    16, 22, 12, 26, 18, 14, 20, 24,
    14, 18, 12, 22, 16, 10, 20, 15,
]

# title, values, y-limits, y-tick step, axes rect (left, bottom, width, height)
panels = [
    ("Number of observations", n_observations, (0, 35000), 5000,
     [0.0569, 0.7207, 0.4092, 0.2264]),
    ("Number of baselines", n_baselines, (0, 200), 20,
     [0.5579, 0.7207, 0.4262, 0.2264]),
    ("Percentage of good observations", pct_good, (20, 100), 10,
     [0.0407, 0.3792, 0.4248, 0.2273]),
    ("Number of sources", n_sources, (0, 300), 50,
     [0.5579, 0.3792, 0.4271, 0.2273]),
    ("Number of stations", n_stations, (2, 20.85), 2,
     [0.0315, 0.0397, 0.4346, 0.2247]),
    ("Error in delay, ps", delay_error_ps, (0, 120), 20,
     [0.5579, 0.0397, 0.4271, 0.2247]),
]

fig = plt.figure(figsize=(10.24, 6.48), dpi=100)
fig.patch.set_facecolor("white")

for title, values, ylim, ystep, rect in panels:
    ax = fig.add_axes(rect)
    ax.scatter(session_year, values, s=15, c="black", linewidths=0, zorder=3)
    ax.set_xlim(1979.5, 2004.1)
    ax.set_ylim(*ylim)
    ax.set_xticks(range(1980, 2005, 4))
    top = int(ylim[1] // ystep * ystep)
    ax.set_yticks(range(int(ylim[0]), top + 1, ystep))
    ax.tick_params(direction="in", top=True, right=True, length=4, width=0.8,
                   labelsize=10, pad=5, colors="black")
    for spine in ax.spines.values():
        spine.set_linewidth(0.8)
    ax.set_title(title, fontsize=10, pad=6)

fig.savefig("out.png", dpi=100)
